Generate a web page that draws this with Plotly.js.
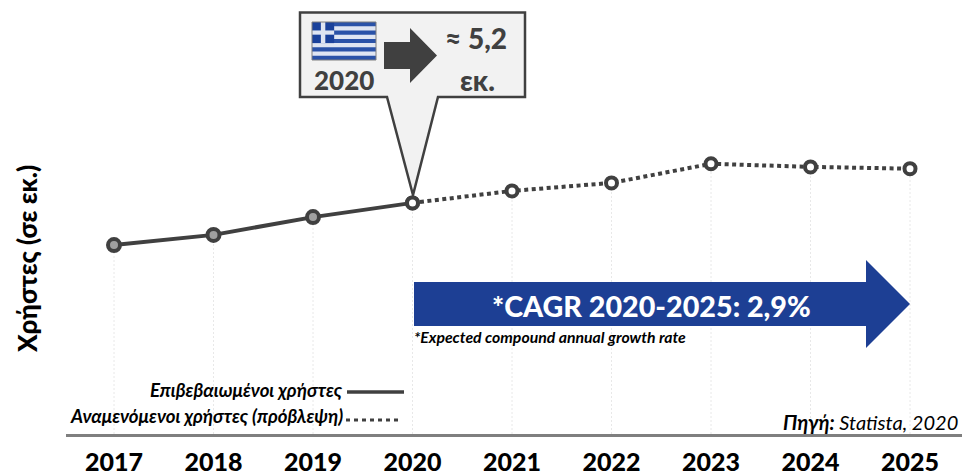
<!DOCTYPE html>
<html>
<head>
<meta charset="utf-8">
<script src="https://cdn.plot.ly/plotly-3.0.1.min.js"></script>
<style>html,body{margin:0;padding:0;background:#fff}</style>
</head>
<body>
<div id="chart" style="width:962px;height:474px"></div>
<script>
// Internet users in Greece, millions
const confirmedYears = [2017, 2018, 2019, 2020];
const confirmedUsers = [4.25, 4.48, 4.88, 5.2];
const forecastYears = [2020, 2021, 2022, 2023, 2024, 2025];
const forecastUsers = [5.2, 5.47, 5.65, 6.08, 6.01, 5.97];
const yearLabels = ['2017', '2018', '2019', '2020', '2021', '2022', '2023', '2024', '2025'];

const W = 962, H = 474, ML = 66, MB = 40;
const DARK = '#404040';
const FONT = 'Lato, "Open Sans", "Noto Sans", sans-serif';

// Pixel helpers for the decorations placed around the plot area
const px = v => (v - ML) / (W - ML);
const py = v => 1 - v / (H - MB);

function poly(points, fill, line, layer) {
  const path = points.map((p, i) => (i ? 'L' : 'M') + px(p[0]) + ',' + py(p[1])).join(' ') + ' Z';
  return {type: 'path', xref: 'paper', yref: 'paper', path, fillcolor: fill,
          line: line || {width: 0}, layer: layer || 'above'};
}
function rect(x0, y0, x1, y1, fill) {
  return {type: 'rect', xref: 'paper', yref: 'paper', x0: px(x0), x1: px(x1), y0: py(y0), y1: py(y1),
          fillcolor: fill, line: {width: 0}, layer: 'above'};
}
function seg(x0, x1, y, dash, width) {
  return {type: 'line', xref: 'paper', yref: 'paper', x0: px(x0), x1: px(x1), y0: py(y), y1: py(y),
          line: {color: DARK, width: width, dash: dash}, layer: 'above'};
}
function label(x, y, text, size, opts) {
  const o = opts || {};
  return {xref: 'paper', yref: 'paper', x: px(x), y: py(y), text, showarrow: false,
    xanchor: o.xanchor || 'center', yanchor: 'middle', textangle: o.textangle || 0,
    font: {family: FONT, size, color: o.color || '#000', weight: o.weight || 400, style: o.style || 'normal'}};
}

// Drop lines from each point to the axis
const dropX = [], dropY = [];
const allYears = confirmedYears.concat(forecastYears.slice(1));
const allUsers = confirmedUsers.concat(forecastUsers.slice(1));
allYears.forEach((y, i) => { dropX.push(y, y, null); dropY.push(0, allUsers[i], null); });

const traces = [
  {x: dropX, y: dropY, mode: 'lines', hoverinfo: 'skip', showlegend: false,
   line: {color: '#e8e8e8', width: 1, dash: '2px,2px'}},
  {x: forecastYears, y: forecastUsers, mode: 'lines+markers', showlegend: false,
   line: {color: DARK, width: 4, dash: '4px,3.5px'},
   marker: {size: 11, color: '#fff', line: {color: DARK, width: 4}}},
  {x: confirmedYears, y: confirmedUsers, mode: 'lines', showlegend: false,
   line: {color: DARK, width: 4}},
  {x: confirmedYears.slice(0, 3), y: confirmedUsers.slice(0, 3), mode: 'markers', showlegend: false,
   marker: {size: 12, color: '#a0a0a0', line: {color: DARK, width: 4}}},
  {x: [2020], y: [5.2], mode: 'markers', showlegend: false,
   marker: {size: 11, color: '#fff', line: {color: DARK, width: 4}}}
];

// Callout pointing at 2020
const shapes = [
  poly([[300, 12.5], [525, 12.5], [525, 97], [438, 97], [413, 195], [387, 97], [300, 97]],
       '#f2f2f2', {color: DARK, width: 2.5}, 'below')
];

// Greek flag: nine stripes, canton with a cross
const flag = {x0: 312, x1: 376, y0: 22, y1: 60};
const stripe = (flag.y1 - flag.y0) / 9;
shapes.push(rect(flag.x0, flag.y0, flag.x1, flag.y1, '#2a52a8'));
for (let i = 1; i < 9; i += 2) {
  shapes.push(rect(flag.x0, flag.y0 + i * stripe, flag.x1, flag.y0 + (i + 1) * stripe, '#dfe5f2'));
}
shapes.push(rect(flag.x0, flag.y0, flag.x0 + 5 * stripe * 1.05, flag.y0 + 5 * stripe, '#1a419b'));
shapes.push(rect(flag.x0 + 2 * stripe * 1.05, flag.y0, flag.x0 + 3 * stripe * 1.05, flag.y0 + 5 * stripe, '#dfe5f2'));
shapes.push(rect(flag.x0, flag.y0 + 2 * stripe, flag.x0 + 5 * stripe * 1.05, flag.y0 + 3 * stripe, '#dfe5f2'));
shapes.push({type: 'rect', xref: 'paper', yref: 'paper', x0: px(flag.x0), x1: px(flag.x1), y0: py(flag.y0), y1: py(flag.y1),
             line: {color: '#7f7f7f', width: 1}, layer: 'above'});

// Arrow inside the callout
shapes.push(poly([[384, 42], [410, 42], [410, 28], [437, 55.5], [410, 83], [410, 69], [384, 69]], DARK));

// Growth arrow
shapes.push(poly([[414, 282], [866, 282], [866, 260], [910, 304], [866, 348], [866, 326], [414, 326]], '#1d3f94'));

// Legend keys
shapes.push(seg(347, 404, 392, 'solid', 3.5));
shapes.push(seg(346, 402, 420, '4px,4px', 3));

const annotations = [
  label(344, 80, '2020', 26, {color: DARK, weight: 900}),
  label(476, 38, '≈ 5,2', 28, {color: DARK, weight: 900}),
  label(477, 80, 'εκ.', 28, {color: DARK, weight: 900}),
  label(651, 306, '*CAGR 2020-2025: 2,9%', 28.7, {color: '#fff', weight: 900}),
  label(412, 336, '*Expected compound annual growth rate', 15.8, {xanchor: 'left', weight: 700, style: 'italic'}),
  label(345, 390, 'Επιβεβαιωμένοι χρήστες', 18.6, {xanchor: 'right', weight: 700, style: 'italic'}),
  label(345, 416, 'Αναμενόμενοι χρήστες (πρόβλεψη)', 18.6, {xanchor: 'right', weight: 700, style: 'italic'}),
  label(960, 422, '<b>Πηγή:</b> Statista, 2020', 20, {xanchor: 'right', style: 'italic'}),
  label(27, 259, 'Χρήστες (σε εκ.)', 26, {textangle: -90, weight: 900})
];

const layout = {
  width: W, height: H,
  margin: {l: ML, r: 0, t: 0, b: MB, pad: 0},
  paper_bgcolor: '#fff', plot_bgcolor: '#fff',
  showlegend: false,
  xaxis: {
    range: [2017 - 48 / 99.5, 2025 + 52 / 99.5],
    tickmode: 'array', tickvals: allYears, ticktext: yearLabels,
    ticks: '', showgrid: false, zeroline: false,
    showline: true, linecolor: '#7f7f7f', linewidth: 2.5,
    ticklabelstandoff: 4,
    tickfont: {family: FONT, size: 25, color: '#000', weight: 900}
  },
  yaxis: {range: [0, 9.765], visible: false, fixedrange: true},
  shapes, annotations
};

Plotly.newPlot('chart', traces, layout, {displayModeBar: false, staticPlot: true});
</script>
</body>
</html>
